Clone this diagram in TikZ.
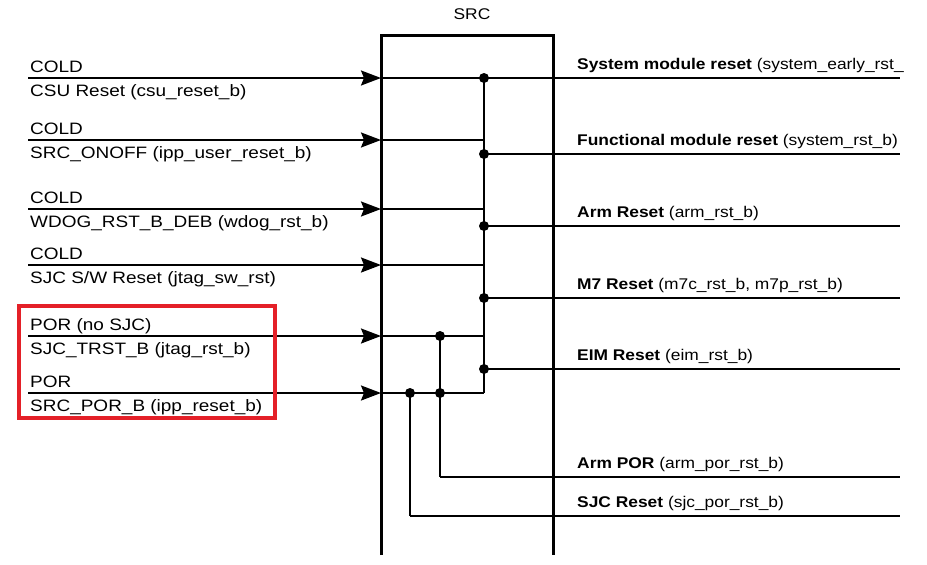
\documentclass[tikz,border=0pt]{standalone}
\usepackage{fontspec}
\setmainfont{Liberation Sans}
\usetikzlibrary{positioning, arrows.meta}
\definecolor{markred}{RGB}{228,32,40}

\begin{document}
\begin{tikzpicture}[x=1pt, y=-1pt,
    inline/.style={line width=2pt},
    inarrow/.style={inline, -{Stealth[length=20pt,width=15pt,inset=3pt]}},
    outline/.style={line width=1.5pt},
    dot/.style={circle, fill, inner sep=0pt, minimum size=10pt},
    lbl/.style={font=\fontsize{16.5}{18}\selectfont, xscale=1.15, inner sep=0pt, anchor=base west},
    olbl/.style={lbl, font=\fontsize{15.5}{18}\selectfont, xscale=0.975},
    markbox/.style={draw=markred, line width=3.2pt}
]
\useasboundingbox (0,0) rectangle (927,565);

% SRC block (open at the bottom)
\coordinate (boxSW) at (381,555);
\coordinate (boxNW) at (381,35);
\coordinate (boxNE) at (553,35);
\coordinate (boxSE) at (553,555);
\draw[line width=3pt] (boxSW) -- (boxNW) -- (boxNE) -- (boxSE);
\node[olbl, anchor=base] (labelSRC) at (472,19) {SRC};

% Inputs
\foreach \y/\up/\lo [count=\i] in {
    78/{COLD}/{CSU Reset (csu\_reset\_b)},
    140/{COLD}/{SRC\_ONOFF (ipp\_user\_reset\_b)},
    209/{COLD}/{WDOG\_RST\_B\_DEB (wdog\_rst\_b)},
    265/{COLD}/{SJC S{/}W Reset (jtag\_sw\_rst)},
    336/{POR (no SJC)}/{SJC\_TRST\_B (jtag\_rst\_b)},
    393/{POR}/{SRC\_POR\_B (ipp\_reset\_b)}} {
    \coordinate (in\i) at (28,\y);
    \coordinate (ent\i) at (381,\y);
    \coordinate (bus\i) at (484,\y);
    \node[lbl] (up\i) at (30,\y-6) {\up};
    \node[lbl] (lo\i) at (30,\y+18) {\lo};
    \draw[inarrow] (in\i) -- (ent\i);
    \draw[inline] (ent\i) -- (bus\i);
}

% Bus and junctions
\draw[inline] (bus1) -- (bus6);
\coordinate (tapA) at (440,336);
\coordinate (tapB) at (440,393);
\coordinate (tapC) at (410,393);
\coordinate (armporB) at (440,477);
\coordinate (sjcB) at (410,516);
\draw[inline] (tapA) -- (armporB);
\draw[inline] (tapC) -- (sjcB);

% Outputs
\foreach \y/\name/\sig [count=\j] in {
    78/{System module reset}/{(system\_early\_rst\_},
    154/{Functional module reset}/{(system\_rst\_b)},
    226/{Arm Reset}/{(arm\_rst\_b)},
    298/{M7 Reset}/{(m7c\_rst\_b, m7p\_rst\_b)},
    369/{EIM Reset}/{(eim\_rst\_b)}} {
    \coordinate (tap\j) at (484,\y);
    \coordinate (out\j) at (900,\y);
    \draw[outline] (tap\j) -- (out\j);
    \node[dot] (dot\j) at (tap\j) {};
    \node[olbl] (olbl\j) at (577,\y-9) {\textbf{\name} \sig};
}
\coordinate (outArmPOR) at (900,477);
\coordinate (outSJC) at (900,516);
\draw[outline] (armporB) -- (outArmPOR);
\draw[outline] (sjcB) -- (outSJC);
\node[olbl] (olblArmPOR) at (577,477-9) {\textbf{Arm POR} (arm\_por\_rst\_b)};
\node[olbl] (olblSJC) at (577,516-9) {\textbf{SJC Reset} (sjc\_por\_rst\_b)};

\node[dot] (dotA) at (tapA) {};
\node[dot] (dotB) at (tapB) {};
\node[dot] (dotC) at (tapC) {};

% Highlight of the POR inputs
\draw[markbox] (19,306) rectangle (275,418);

\end{tikzpicture}
\end{document}
